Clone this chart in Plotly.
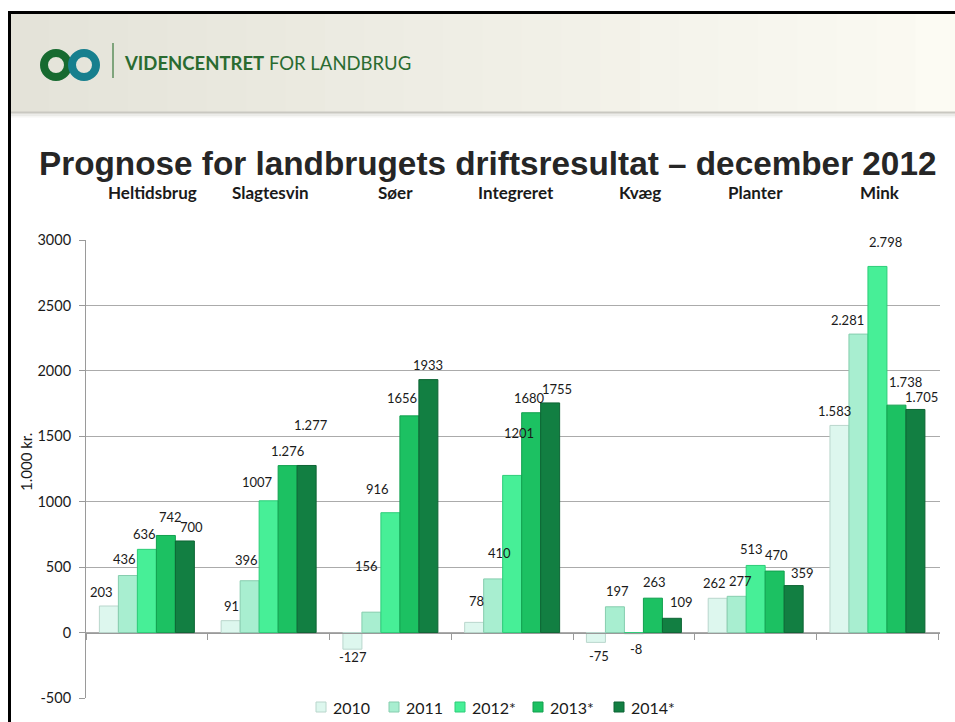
import plotly.graph_objects as go

# data
categories = ["Heltidsbrug", "Slagtesvin", "Søer", "Integreret", "Kvæg", "Planter", "Mink"]
years = ["2010", "2011", "2012*", "2013*", "2014*"]

v2010 = [203, 91, -127, 78, -75, 262, 1583]
v2011 = [436, 396, 156, 410, 197, 277, 2281]
v2012 = [636, 1007, 916, 1201, -8, 513, 2798]
v2013 = [742, 1276, 1656, 1680, 263, 470, 1738]
v2014 = [700, 1277, 1933, 1755, 109, 359, 1705]

t2010 = ["203", "91", "-127", "78", "-75", "262", "1.583"]
t2011 = ["436", "396", "156", "410", "197", "277", "2.281"]
t2012 = ["636", "1007", "916", "1201", "-8", "513", "2.798"]
t2013 = ["742", "1.276", "1656", "1680", "263", "470", "1.738"]
t2014 = ["700", "1.277", "1933", "1755", "109", "359", "1.705"]

yticks = [-500, 0, 500, 1000, 1500, 2000, 2500, 3000]

# label placement as in the original slide (pixels: lift from bar end, sideways nudge)
lift = [[14, 15, 8, 21, 14, 15, 14],
        [17, 21, 46, 26, 16, 15, 14],
        [15, 19, 24, 42, 15, 16, 24],
        [18, 15, 18, 15, 16, 16, 23],
        [14, 40, 15, 14, 16, 13, 12]]
nudge = [[-7, 1, 1, 2, 3, -3, -5],
         [-3, -3, -5, 6, 3, 4, -11],
         [-2, -11, -13, 7, 2, -4, 8],
         [5, 0, -7, -2, 2, 2, 9],
         [7, 4, 0, 7, 10, 9, 6]]
head_nudge = [6, 2, 5, 4, 6, 0, 3]
legend_left = [316, 389, 455, 533, 614]  # pixel x of each legend swatch

series = [v2010, v2011, v2012, v2013, v2014]
texts = [t2010, t2011, t2012, t2013, t2014]
fills = ["#ddf7ee", "#a8eed0", "#47ef97", "#1cc162", "#127f42"]
edges = ["#b9d6cc", "#86cdae", "#2ccd78", "#12a04f", "#0d6434"]

W, H = 955, 722
L, R, T, B = 86, 15, 240, 24
BARGAP = 0.22
bar_w = (W - L - R) / len(categories) * (1 - BARGAP) / len(years)


def px(x):
    return (x - L) / (W - L - R)


def py(y):
    return (H - B - y) / (H - T - B)


fig = go.Figure()
for name, vals, fc, ec in zip(years, series, fills, edges):
    fig.add_trace(go.Bar(
        x=categories, y=vals, name=name, showlegend=False,
        marker=dict(color=fc, line=dict(color=ec, width=1)),
    ))

shapes = []
# header band, light horizontal gradient
n = 24
for i in range(n):
    f = i / (n - 1)
    c0 = (228, 227, 217)
    c1 = (252, 251, 243)
    c = tuple(int(a + (b - a) * f) for a, b in zip(c0, c1))
    shapes.append(dict(type="rect", xref="paper", yref="paper", layer="below",
                       x0=px(10 + (W - 10) * i / n), x1=px(10 + (W - 10) * (i + 1) / n + 1),
                       y0=py(112), y1=py(14), fillcolor="rgb(%d,%d,%d)" % c, line_width=0))
# shadow under the band
for k, col in enumerate(["#c9c8c1", "#dcdbd6", "#ebebe8", "#f6f6f4"]):
    shapes.append(dict(type="rect", xref="paper", yref="paper", layer="below",
                       x0=px(10), x1=px(W), y0=py(113 + k * 1.5), y1=py(111.5 + k * 1.5),
                       fillcolor=col, line_width=0))
# slide frame
shapes.append(dict(type="line", xref="paper", yref="paper", x0=px(8), x1=px(W), y0=py(12.5), y1=py(12.5),
                   line=dict(color="black", width=3)))
shapes.append(dict(type="line", xref="paper", yref="paper", x0=px(9.5), x1=px(9.5), y0=py(12), y1=py(H),
                   line=dict(color="black", width=3)))
# logo rings
shapes.append(dict(type="circle", xref="paper", yref="paper", x0=px(44), x1=px(68), y0=py(77), y1=py(53),
                   line=dict(color="#176a30", width=8)))
shapes.append(dict(type="circle", xref="paper", yref="paper", x0=px(72), x1=px(96), y0=py(77), y1=py(53),
                   line=dict(color="#177f8e", width=8)))
shapes.append(dict(type="line", xref="paper", yref="paper", x0=px(113), x1=px(113), y0=py(43), y1=py(78),
                   line=dict(color="#5c8e5c", width=1.5)))

annotations = [
    dict(text="<b>VIDENCENTRET</b> FOR LANDBRUG", xref="paper", yref="paper", x=px(122), y=py(63),
         xanchor="left", yanchor="middle", showarrow=False,
         font=dict(family="Lato", size=18.5, color="#2a6b31")),
    dict(text="<b>Prognose for landbrugets driftsresultat – december 2012</b>", xref="paper", yref="paper",
         x=px(487), y=py(163), xanchor="center", yanchor="middle", showarrow=False,
         font=dict(family="Liberation Sans", size=33.3, color="#262626")),
    dict(text="1.000 kr.", xref="paper", yref="paper", x=px(26), y=py(462), textangle=-90,
         xanchor="center", yanchor="middle", showarrow=False,
         font=dict(family="Lato", size=15, color="#1a1a1a")),
]
for cat, dx in zip(categories, head_nudge):
    annotations.append(dict(text="<b>%s</b>" % cat, xref="x", yref="paper", x=cat, y=py(192),
                            xshift=dx, xanchor="center", yanchor="middle", showarrow=False,
                            font=dict(family="Lato", size=17, color="#1a1a1a")))

# value labels
for i, (vals, txt) in enumerate(zip(series, texts)):
    for j, cat in enumerate(categories):
        up = 1 if vals[j] >= 0 else -1
        annotations.append(dict(
            text=txt[j], xref="x", yref="y", x=cat, y=vals[j],
            xshift=(i - 2) * bar_w + nudge[i][j], yshift=up * lift[i][j],
            xanchor="center", yanchor="middle", showarrow=False,
            font=dict(family="Lato", size=13, color="#1a1a1a"),
        ))

# legend drawn as swatches + text, compact like the slide
for name, fc, ec, x0 in zip(years, fills, edges, legend_left):
    shapes.append(dict(type="rect", xref="paper", yref="paper", x0=px(x0), x1=px(x0 + 10),
                       y0=py(712), y1=py(702), fillcolor=fc, line=dict(color=ec, width=1)))
    annotations.append(dict(text=name, xref="paper", yref="paper", x=px(x0 + 15), y=py(707),
                            xanchor="left", yanchor="middle", showarrow=False,
                            font=dict(family="Lato", size=16, color="#1a1a1a")))

fig.update_layout(
    width=W, height=H, autosize=False,
    margin=dict(l=L, r=R, t=T, b=B, autoexpand=False),
    paper_bgcolor="white", plot_bgcolor="white",
    barmode="group", bargap=BARGAP, bargroupgap=0,
    font=dict(family="Lato", color="#1a1a1a"),
    shapes=shapes, annotations=annotations,
)
fig.update_xaxes(
    anchor="free", position=500 / 3500, showline=True, linecolor="#9a9a9a", linewidth=1,
    ticks="outside", tickson="boundaries", ticklen=6, tickcolor="#9a9a9a",
    showticklabels=False, showgrid=False,
)
fig.update_yaxes(
    range=[-500, 3000], tickvals=yticks, ticktext=[str(v) for v in yticks],
    showline=True, linecolor="#9a9a9a", ticks="outside", ticklen=6, tickcolor="#9a9a9a",
    gridcolor="#ababab", zeroline=False, tickfont=dict(size=14.5, family="Lato"),
    ticklabelstandoff=5,
)

fig.write_html("out.html", config={"displayModeBar": False},
               post_script="document.body.style.margin='0';")
